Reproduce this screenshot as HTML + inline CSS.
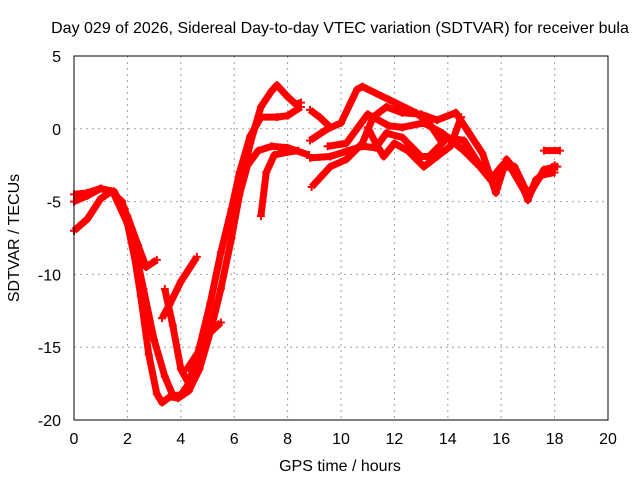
<!DOCTYPE html>
<html><head><meta charset="utf-8"><style>
body{margin:0;background:#fff}
svg text{font-family:"Liberation Sans",sans-serif;font-size:16px;fill:#000}
</style></head><body>
<svg id="chart" width="640" height="480">
<text x="340" y="33" text-anchor="middle">Day 029 of 2026, Sidereal Day-to-day VTEC variation (SDTVAR) for receiver bula</text>
<text x="340" y="471" text-anchor="middle">GPS time / hours</text>
<text transform="translate(19,238) rotate(-90)" text-anchor="middle">SDTVAR / TECUs</text>
<g id="grid"></g><g id="ticks"></g><g id="series"></g>
<rect x="74" y="56" width="534" height="364" fill="none" stroke="#000" stroke-width="1"/>
</svg>
<script>
const xTicks=[0,2,4,6,8,10,12,14,16,18,20];
const yTicks=[5,0,-5,-10,-15,-20];
const track1=[[0,-5],[0.5,-4.6],[1,-4.1],[1.5,-4.4],[1.9,-5.5],[2.2,-8],[2.5,-11.5],[2.8,-15.5],[3.1,-18.2],[3.3,-18.8],[3.6,-18.4],[3.9,-18.5],[4.3,-18],[4.7,-16.5],[5.1,-14],[5.5,-11],[5.9,-7.5],[6.3,-3.5],[6.6,-1],[7,1.5],[7.4,2.6],[7.6,3],[8,2.2],[8.3,1.7],[8.5,1.8]];
const track2=[[0,-7],[0.5,-6.2],[1,-4.8],[1.4,-4.3],[1.8,-5],[2.2,-7.5],[2.6,-11],[3,-14.5],[3.4,-17],[3.7,-18.3],[4,-18.3],[4.3,-17.5],[4.7,-15],[5.1,-12],[5.5,-8.5],[5.9,-5.5],[6.2,-3],[6.6,-0.5],[7,0.8],[7.6,0.8],[8,0.9],[8.5,1.5]];
const track3=[[0,-4.5],[0.5,-4.4],[1,-4.1],[1.5,-4.3],[2,-6],[2.4,-8],[2.7,-9.5],[3.1,-9]];
const track4=[[1.5,-4.5],[2,-6.5],[2.4,-10],[2.7,-12.5],[2.9,-14]];
const track5=[[3.4,-11],[3.7,-13.5],[4,-16.5],[4.3,-17.5]];
const track6=[[3.3,-13],[3.6,-12],[4,-10.5],[4.6,-8.8]];
const track7=[[4.2,-16.6],[4.6,-15.5],[5.1,-14],[5.5,-13.3]];
const track8=[[5.9,-7],[6.2,-4.5],[6.5,-2.5],[6.9,-1.5],[7.4,-1.2],[8,-1.3],[8.8,-1.8]];
const track9=[[7,-6],[7.2,-3],[7.5,-1.8],[8,-1.6],[8.4,-1.5]];
const track10=[[8.84,1.3],[9.2,0.8],[9.6,0.1]];
const track11=[[8.84,-0.8],[9.5,0],[10,0.4],[10.6,2.7],[10.8,2.9],[11.8,2],[12.8,1.1],[13.3,0.4],[13.8,-1]];
const track12=[[8.9,-4],[9.6,-2.6],[10.2,-2.1],[10.8,-1],[11.2,0.8],[11.7,1.5],[12.3,1.1],[13,1],[13.6,0.6],[14.3,1.1],[14.8,-0.3],[15.3,-1.7],[15.8,-4.4],[16.2,-2.1],[16.6,-3],[17,-4.9],[17.3,-3.5],[17.8,-2.8],[18,-2.5]];
const track13=[[8.84,-2],[9.6,-1.9],[10.8,-1.2],[11.3,-1.3],[11.7,-0.3],[12.3,-0.6],[13,-1.9],[13.3,-1.9],[14,-0.6],[14.6,-0.8],[15.3,-2.8],[15.7,-3.4],[16.1,-2.4],[16.4,-2.8],[17,-4.7],[17.6,-2.8],[18.1,-2.6]];
const track14=[[9.5,-1.2],[10.2,-1],[11,1],[11.8,0.2],[12.3,0.1],[13.1,0.4],[13.8,-0.3],[14.6,-1.5],[15.2,-2.6],[15.6,-3.5],[16,-2.6],[16.5,-2.6],[17,-4.5],[17.5,-3.2],[18,-3]];
const track15=[[17.6,-1.5],[18.2,-1.5]];
const track16=[[11,0.1],[11.3,-1],[11.6,-1.9],[12,-1],[12.5,-1.5],[13.1,-2.6],[13.6,-1.9],[14.1,-1.2],[14.5,0.8]];
const tracks=[track1,track2,track3,track4,track5,track6,track7,track8,track9,track10,track11,track12,track13,track14,track15,track16];
const NS="http://www.w3.org/2000/svg";
const X0=74,X1=608,Y0=420,Y1=56;
function xs(h){return X0+(h-0)/(20-0)*(X1-X0);}
function ys(v){return Y0-(v+20)/(5+20)*(Y0-Y1);}
const grid=document.getElementById('grid'),ticks=document.getElementById('ticks'),ser=document.getElementById('series');
xTicks.forEach(t=>{
 const x=xs(t);
 if(t>0&&t<20){const l=document.createElementNS(NS,'line');l.setAttribute('x1',x);l.setAttribute('x2',x);l.setAttribute('y1',Y1);l.setAttribute('y2',Y0);l.setAttribute('stroke','#a0a0a0');l.setAttribute('stroke-dasharray','2,4');
 
 
 grid.appendChild(l);}
 const tx=document.createElementNS(NS,'text');tx.setAttribute('x',x);tx.setAttribute('y',444);tx.setAttribute('text-anchor','middle');tx.textContent=t;
 
 
 ticks.appendChild(tx);
});
yTicks.forEach(t=>{
 const y=ys(t);
 if(t>-20&&t<5){const l=document.createElementNS(NS,'line');l.setAttribute('x1',X0);l.setAttribute('x2',X1);l.setAttribute('y1',y);l.setAttribute('y2',y);l.setAttribute('stroke','#a0a0a0');l.setAttribute('stroke-dasharray','2,4');
 
 
 grid.appendChild(l);}
 const tx=document.createElementNS(NS,'text');tx.setAttribute('x',61);tx.setAttribute('y',y+6);tx.setAttribute('text-anchor','end');tx.textContent=t;
 
 
 ticks.appendChild(tx);
});
tracks.forEach((tr,i)=>{
 const p=document.createElementNS(NS,'polyline');
 p.setAttribute('points',tr.map(d=>xs(d[0])+','+ys(d[1])).join(' '));
 p.setAttribute('fill','none');p.setAttribute('stroke','#ff0000');p.setAttribute('stroke-width','7');p.setAttribute('stroke-linejoin','round');
 
 
 ser.appendChild(p);
 tr.forEach(d=>{
  const m=document.createElementNS(NS,'path');
  const x=xs(d[0]),y=ys(d[1]);
  m.setAttribute('d',`M${x-4},${y}H${x+4}M${x},${y-4}V${y+4}`);
  m.setAttribute('stroke','#ff0000');m.setAttribute('stroke-width','2');
  
  
  ser.appendChild(m);
 });
});
</script>
</body></html>
